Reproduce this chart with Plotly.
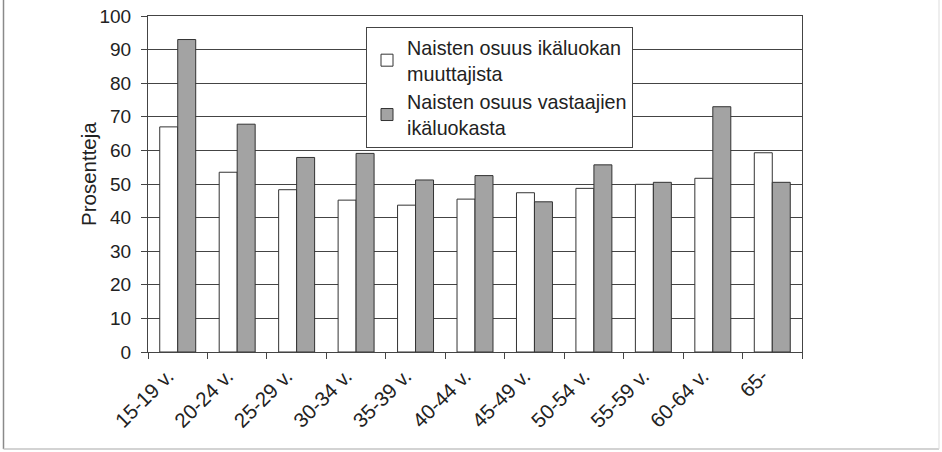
import plotly.graph_objects as go

categories = ["15-19 v.", "20-24 v.", "25-29 v.", "30-34 v.", "35-39 v.", "40-44 v.",
              "45-49 v.", "50-54 v.", "55-59 v.", "60-64 v.", "65-"]
share_movers = [67, 53.5, 48.3, 45.2, 43.7, 45.5, 47.4, 48.7, 49.9, 51.7, 59.3]
share_respondents = [93, 67.8, 57.9, 59.1, 51.2, 52.5, 44.7, 55.7, 50.5, 73, 50.5]
series_names = ["Naisten osuus ikäluokan<br>muuttajista",
                "Naisten osuus vastaajien<br>ikäluokasta"]
y_ticks = list(range(0, 101, 10))
y_title = "Prosentteja"

FONT = "Liberation Sans, Arial, sans-serif"
W, H = 942, 452
L, R, T, B = 148, 140, 16, 100
pw, ph = W - L - R, H - T - B

def px_x(page_x):
    return (page_x - L) / pw

def px_y(page_y):
    return (H - B - page_y) / ph

fig = go.Figure()
fig.add_trace(go.Bar(x=categories, y=share_movers, name=series_names[0], legendgroup="a",
                     marker=dict(color="white", line=dict(color="#333333", width=1))))
fig.add_trace(go.Bar(x=categories, y=share_respondents, name=series_names[1], legendgroup="b",
                     marker=dict(color="#a3a3a3", line=dict(color="#333333", width=1))))

# outer chart frame (left, bottom, right edges)
frame = dict(type="line", xref="paper", yref="paper", layer="below")
fig.add_shape(**frame, x0=px_x(3.5), x1=px_x(3.5), y0=px_y(449), y1=px_y(0),
              line=dict(color="#8a8a8a", width=1.5))
fig.add_shape(**frame, x0=px_x(3.5), x1=px_x(939), y0=px_y(449), y1=px_y(449),
              line=dict(color="#c4c4c4", width=1.5))
fig.add_shape(**frame, x0=px_x(939), x1=px_x(939), y0=px_y(449), y1=px_y(0),
              line=dict(color="#dddddd", width=1))

# y-axis title
fig.add_annotation(text=y_title, xref="paper", yref="paper", x=px_x(88), y=px_y(174),
                   xanchor="center", yanchor="middle", textangle=-90, showarrow=False,
                   font=dict(family=FONT, size=20.5, color="#222222"))

fig.update_layout(
    width=W, height=H,
    margin=dict(l=L, r=R, t=T, b=B, autoexpand=False),
    paper_bgcolor="white", plot_bgcolor="white",
    font=dict(family=FONT, size=19, color="#222222"),
    barmode="group", bargap=0.395, bargroupgap=0,
    showlegend=True,
    legend=dict(x=px_x(366), y=px_y(27),
                xanchor="left", yanchor="top",
                bgcolor="white", bordercolor="#444444", borderwidth=1,
                font=dict(family=FONT, size=19.75, color="#222222"),
                itemwidth=30, traceorder="grouped", tracegroupgap=0),
)
fig.update_xaxes(tickangle=-45, ticks="outside", tickson="boundaries", ticklen=6,
                 tickcolor="#444444", showline=True, linecolor="#444444", linewidth=1,
                 mirror=True, showgrid=False, tickfont=dict(size=20.5), automargin=False,
                 ticklabelshift=-10, ticklabelstandoff=3, ticklabeloverflow="allow")
fig.update_yaxes(range=[0, 100], tickvals=y_ticks, ticks="outside", ticklen=6,
                 tickcolor="#444444", showline=True, linecolor="#444444", linewidth=1,
                 mirror=True, showgrid=True, gridcolor="#444444", gridwidth=1,
                 zeroline=False, ticklabelstandoff=6, ticklabeloverflow="allow",
                 tickfont=dict(size=19), automargin=False)

fig.write_html("out.html", config={"displayModeBar": False},
               post_script="document.body.style.margin='0px';")
